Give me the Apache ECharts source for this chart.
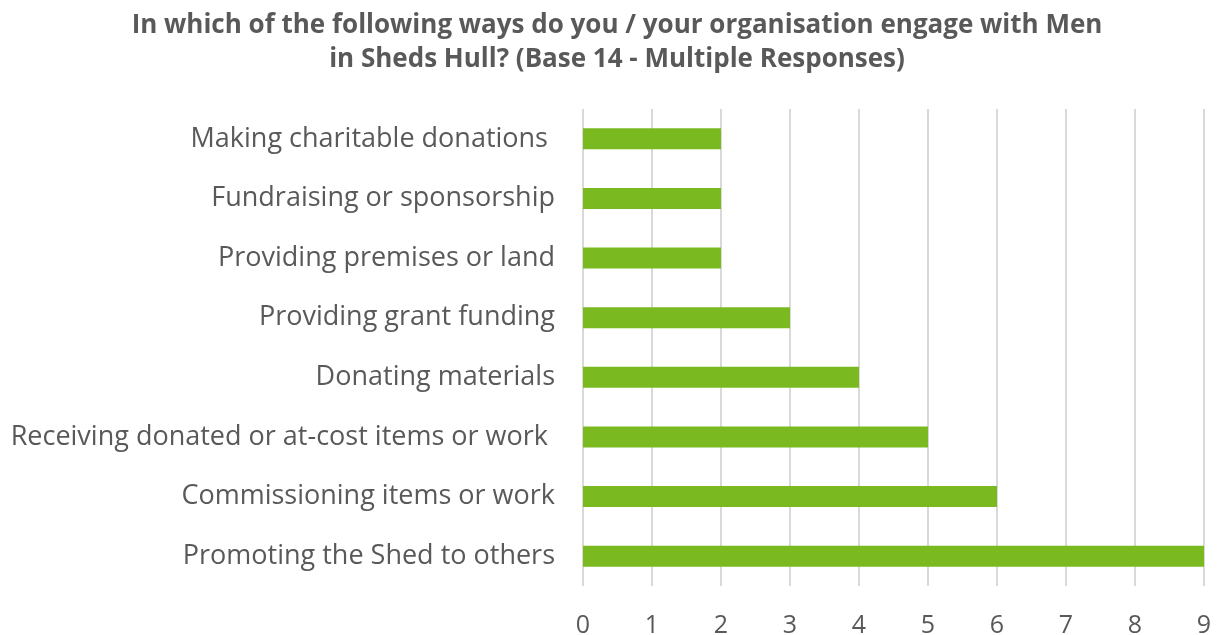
<!DOCTYPE html>
<html>
<head>
<meta charset="utf-8">
<script src="https://cdn.jsdelivr.net/npm/echarts@6/dist/echarts.min.js"></script>
<style>html,body{margin:0;padding:0;background:#fff;}#c{width:1217px;height:635px;}</style>
</head>
<body>
<div id="c"></div>
<script>
const categories = [
  "Making charitable donations ",
  "Fundraising or sponsorship",
  "Providing premises or land",
  "Providing grant funding",
  "Donating materials",
  "Receiving donated or at-cost items or work ",
  "Commissioning items or work",
  "Promoting the Shed to others"
];
const values = [2, 2, 2, 3, 4, 5, 6, 9];
const xTicks = [0, 1, 2, 3, 4, 5, 6, 7, 8, 9];
const titleText = "In which of the following ways do you / your organisation engage with Men\nin Sheds Hull? (Base 14 - Multiple Responses)";

const chart = echarts.init(document.getElementById('c'), null, {renderer: 'canvas'});
chart.setOption({
  animation: false,
  backgroundColor: '#ffffff',
  title: {
    text: titleText,
    left: 612,
    top: 4,
    textStyle: {
      fontFamily: 'Open Sans',
      fontWeight: 'bold',
      fontSize: 26,
      color: '#595959',
      lineHeight: 34
    },
    textAlign: 'center'
  },
  grid: {left: 583, right: 13, top: 109, bottom: 49, containLabel: false, outerBoundsMode: 'none'},
  xAxis: {
    type: 'value',
    min: xTicks[0],
    max: xTicks[xTicks.length - 1],
    interval: 1,
    axisLine: {show: false},
    axisTick: {show: false},
    splitLine: {show: true, lineStyle: {color: '#d9d9d9', width: 2}},
    axisLabel: {
      margin: 27,
      fontFamily: 'Open Sans',
      fontSize: 25,
      color: '#595959'
    }
  },
  yAxis: {
    type: 'category',
    data: categories,
    inverse: true,
    axisLine: {show: false},
    axisTick: {show: false},
    axisLabel: {
      margin: 28,
      fontFamily: 'Open Sans',
      fontSize: 27,
      color: '#595959'
    }
  },
  series: [{
    type: 'bar',
    data: values,
    barWidth: 21,
    itemStyle: {color: '#7ABA20'}
  }]
});
</script>
</body>
</html>
